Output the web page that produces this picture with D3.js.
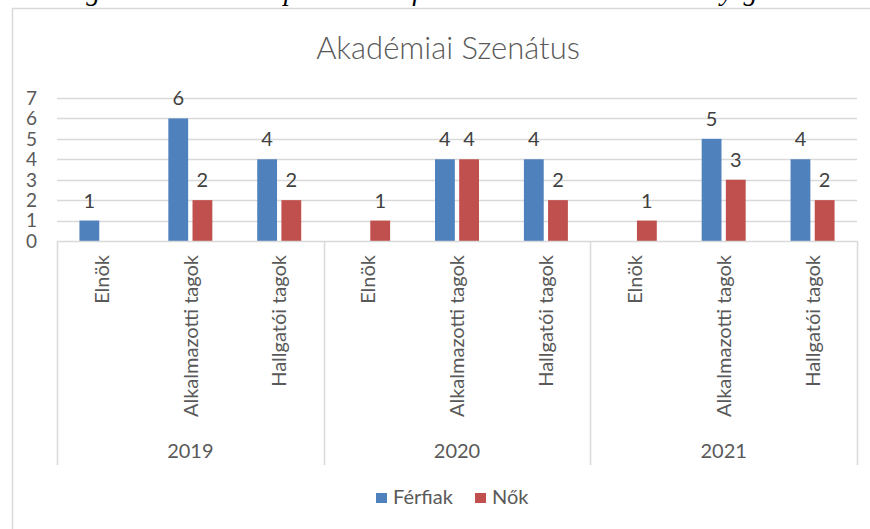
<!DOCTYPE html>
<html>
<head>
<meta charset="utf-8">
<script src="https://cdn.jsdelivr.net/npm/d3@7"></script>
<style>
  body { margin: 0; background: #fff; }
  text { font-family: Lato, "Open Sans", sans-serif; }
</style>
</head>
<body>
<svg id="svg1"></svg>
<script>

var years = ["2019", "2020", "2021"];
var roles = ["Elnök", "Alkalmazotti tagok", "Hallgatói tagok"];
var series = ["Férfiak", "Nők"];
var ferfiak = [1, 6, 4, null, 4, 4, null, 5, 4];
var nok = [null, 2, 2, 1, 4, 2, 1, 3, 2];
var yTicks = [0, 1, 2, 3, 4, 5, 6, 7];
var colors = ["#4f81bd", "#c0504d"];

var width = 870;
var height = 529;

var svg = d3.select("#svg1")
    .attr("width", width)
    .attr("height", height);

// chart frame
svg.append("rect")
    .attr("x", 12.5)
    .attr("y", 8.5)
    .attr("width", 900)
    .attr("height", 600)
    .style("fill", "#fff")
    .style("stroke", "#d9d9d9")
    .style("stroke-width", 1.5);

// caption of the document, cut off at the top
svg.append("text")
    .attr("x", 58)
    .attr("y", 0)
    .attr("textLength", 772)
    .attr("lengthAdjust", "spacing")
    .style("font-family", "'Liberation Serif', serif")
    .style("font-style", "italic")
    .style("font-size", "28px")
    .style("fill", "#000")
    .text("Figure 4.4 – Composition of the Academic Senate by gender");

svg.append("text")
    .attr("x", 448)
    .attr("y", 59)
    .attr("text-anchor", "middle")
    .style("font-size", "31px")
    .style("font-weight", 300)
    .style("fill", "#595959")
    .text("Akadémiai Szenátus");

// one row per category
var keys = [];
years.forEach(function(yr) {
  roles.forEach(function(r) { keys.push(yr + "|" + r); });
});
var data = keys.map(function(k, i) {
  return {key: k, role: k.split("|")[1], values: [ferfiak[i], nok[i]]};
});

var plotLeft = 57, plotRight = 857, plotTop = 98, plotBottom = 241;

var x = d3.scaleBand()
    .domain(keys)
    .range([plotLeft, plotRight]);

var xSub = d3.scaleBand()
    .domain(series)
    .range([x.bandwidth() / 2 - 22, x.bandwidth() / 2 + 22])
    .paddingInner(0.18);

var y = d3.scaleLinear()
    .domain([0, 7])
    .range([plotBottom, plotTop]);

var xYear = d3.scaleBand()
    .domain(years)
    .range([plotLeft, plotRight]);

// gridlines
svg.append("g")
    .selectAll("line")
    .data(yTicks.slice(1))
    .enter()
    .append("line")
      .attr("x1", plotLeft)
      .attr("x2", plotRight)
      .attr("y1", function(d) { return Math.round(y(d)) + 0.5; })
      .attr("y2", function(d) { return Math.round(y(d)) + 0.5; })
      .style("stroke", "#d9d9d9")
      .style("stroke-width", 1.5);

// y axis labels
svg.append("g")
    .selectAll("text")
    .data(yTicks)
    .enter()
    .append("text")
      .attr("x", 37)
      .attr("y", function(d) { return y(d); })
      .attr("dy", "0.36em")
      .attr("text-anchor", "end")
      .style("font-size", "19px")
      .style("fill", "#595959")
      .text(function(d) { return d; });

// bars
var groups = svg.append("g")
    .selectAll("g")
    .data(data)
    .enter()
    .append("g")
      .attr("transform", function(d) { return "translate(" + x(d.key) + ",0)"; });

var cells = groups.selectAll("g")
    .data(function(d) {
      return d.values.map(function(v, j) { return {s: series[j], v: v, j: j}; })
        .filter(function(e) { return e.v != null; });
    })
    .enter()
    .append("g");

cells.append("rect")
    .attr("x", function(d) { return xSub(d.s); })
    .attr("width", xSub.bandwidth())
    .attr("y", function(d) { return y(d.v); })
    .attr("height", function(d) { return y(0) - y(d.v); })
    .style("fill", function(d) { return colors[d.j]; });

cells.append("text")
    .attr("x", function(d) { return xSub(d.s) + xSub.bandwidth() / 2; })
    .attr("y", function(d) { return y(d.v) - 13; })
    .attr("text-anchor", "middle")
    .style("font-size", "20px")
    .style("fill", "#404040")
    .text(function(d) { return d.v; });

// category axis
svg.append("line")
    .attr("x1", plotLeft)
    .attr("x2", plotRight)
    .attr("y1", plotBottom + 0.5)
    .attr("y2", plotBottom + 0.5)
    .style("stroke", "#d9d9d9")
    .style("stroke-width", 1.5);

svg.append("g")
    .selectAll("line")
    .data(years.concat(["end"]))
    .enter()
    .append("line")
      .attr("x1", function(d, i) { return Math.round(plotLeft + i * xYear.bandwidth()) + 0.5; })
      .attr("x2", function(d, i) { return Math.round(plotLeft + i * xYear.bandwidth()) + 0.5; })
      .attr("y1", plotBottom)
      .attr("y2", 465)
      .style("stroke", "#d9d9d9")
      .style("stroke-width", 1.5);

svg.append("g")
    .selectAll("text")
    .data(data)
    .enter()
    .append("text")
      .attr("transform", function(d) {
        return "translate(" + (x(d.key) + x.bandwidth() / 2) + ",255) rotate(-90)";
      })
      .attr("dy", "0.36em")
      .attr("text-anchor", "end")
      .style("font-size", "20px")
      .style("fill", "#595959")
      .text(function(d) { return d.role; });

svg.append("g")
    .selectAll("text")
    .data(years)
    .enter()
    .append("text")
      .attr("x", function(d) { return xYear(d) + xYear.bandwidth() / 2; })
      .attr("y", 458)
      .attr("text-anchor", "middle")
      .style("font-size", "20px")
      .style("fill", "#595959")
      .text(function(d) { return d; });

// legend
var legend = svg.append("g")
    .selectAll("g")
    .data(series)
    .enter()
    .append("g")
      .attr("transform", function(d, i) { return "translate(" + [376, 475][i] + ",0)"; });

legend.append("rect")
    .attr("x", 0)
    .attr("y", 493)
    .attr("width", 11)
    .attr("height", 10)
    .style("fill", function(d, i) { return colors[i]; });

legend.append("text")
    .attr("x", 17)
    .attr("y", 504)
    .style("font-size", "20px")
    .style("fill", "#595959")
    .text(function(d) { return d; });

</script>
</body>
</html>
